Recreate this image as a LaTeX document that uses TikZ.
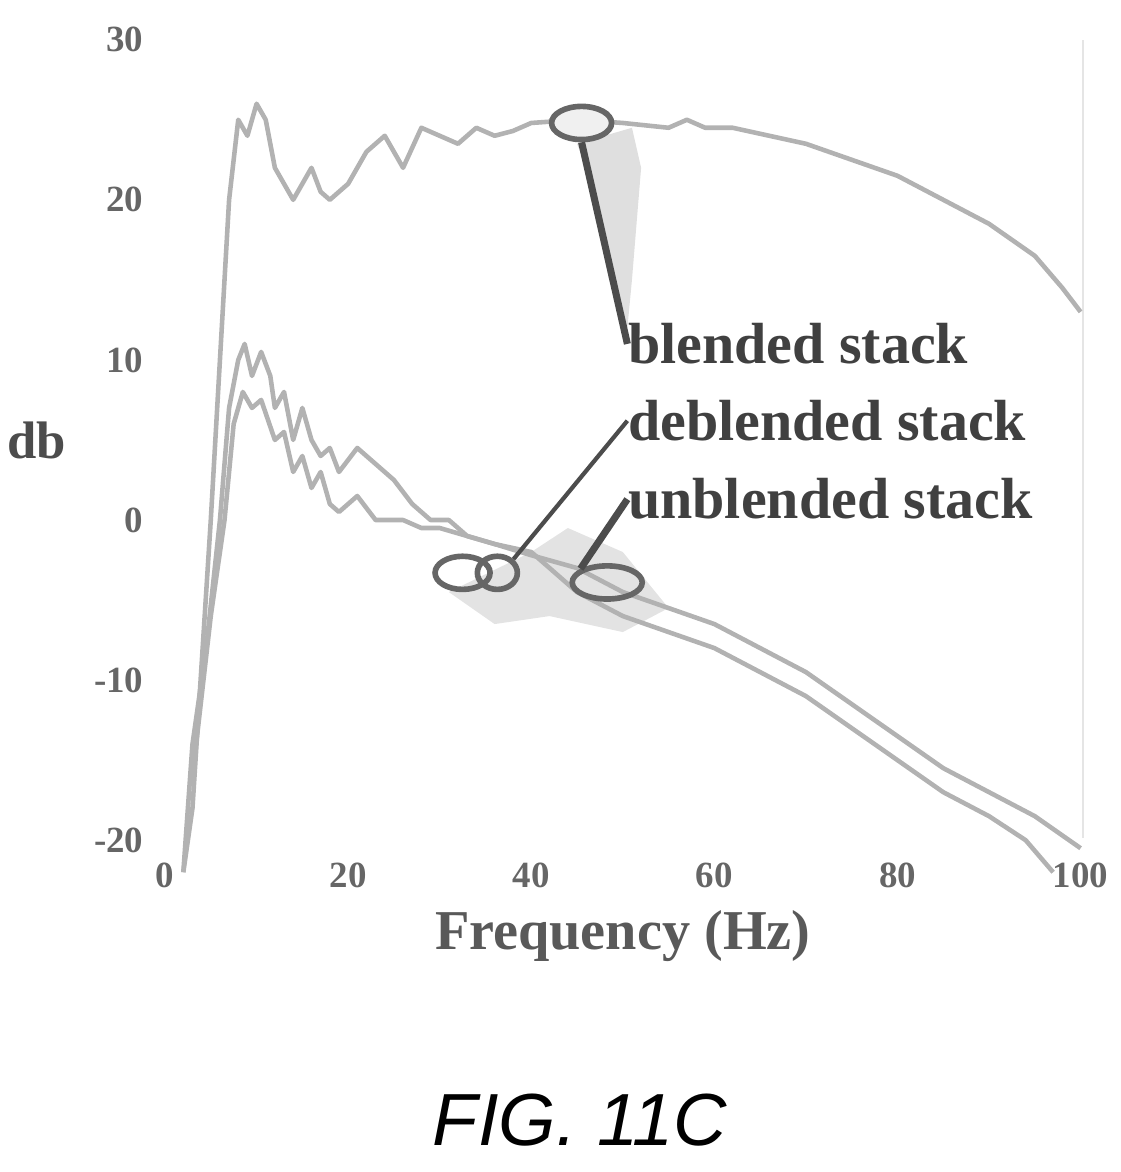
\documentclass[tikz,border=0pt]{standalone}
\usepackage{fontspec}
\setmainfont{Liberation Serif}
\newfontfamily\figfont{Liberation Sans}
\usetikzlibrary{shapes.geometric}
\begin{document}
\begin{tikzpicture}[x=0.01cm,y=0.01cm,
  curve/.style={draw=gray!60, line width=1.3pt, line join=round},
  lbl/.style={font=\fontsize{16.5}{16}\selectfont\bfseries, text=black!75, anchor=west, inner sep=0},
  tick/.style={font=\fontsize{10.5}{10}\selectfont\bfseries, text=black!60},
  oval/.style={draw=black!60, line width=1.6pt, fill=gray!12},
  lead/.style={draw=black!70, line width=2pt}]
\useasboundingbox (0,-1172) rectangle (1121,0);
\draw[gray!20, line width=0.8pt] (1083,-40) -- (1083,-838);
\begin{scope}[shift={(165,-520)}, x=0.0915cm, y=0.16cm]
 \foreach \v in {30,20,10,0,-10,-20}{\node[tick, anchor=east] (yt\v) at (-1,\v) {\v};}
 \foreach \u in {0,20,40,60,80,100}{\node[tick] (xt\u) at (\u,-22.2) {\u};}
 \node[font=\fontsize{15}{15}\selectfont\bfseries, text=black!70] (ylab) at (-14,5) {db};
 \node[font=\fontsize{16}{16}\selectfont\bfseries, text=black!65] (xlab) at (50,-26) {Frequency (Hz)};
 % shadows
 \fill[gray!25] (45,23.5) -- (51,24.5) -- (52,22) -- (51,15) -- (50.5,12) -- (48.5,15) -- (46,22) -- cycle;
 \fill[gray!22] (31,-4.5) -- (36,-6.5) -- (42,-6) -- (50,-7) -- (55,-5.5) -- (50,-2) -- (44,-0.5) -- (40,-2) -- cycle;
 \path[curve] (2,-22) -- (3,-18) -- (5,0) -- (7,20) -- (8,25) -- (9,24) -- (10,26) -- (11,25) -- (12,22) -- (14,20) -- (15,21) -- (16,22) -- (17,20.5) -- (18,20) -- (20,21) -- (22,23) -- (24,24) -- (26,22) -- (28,24.5) -- (30,24) -- (32,23.5) -- (34,24.5) -- (36,24) -- (38,24.3) -- (40,24.8) -- (45,25) -- (50,24.8) -- (55,24.5) -- (57,25) -- (59,24.5) -- (62,24.5) -- (66,24) -- (70,23.5) -- (75,22.5) -- (80,21.5) -- (85,20) -- (90,18.5) -- (95,16.5) -- (98,14.5) -- (100,13);
 \path[curve] (2,-22) -- (3,-14) -- (4.5,-8) -- (6,0) -- (7,7) -- (8,10) -- (8.7,11) -- (9.5,9) -- (10.5,10.5) -- (11.5,9) -- (12,7) -- (13,8) -- (14,5) -- (15,7) -- (16,5) -- (17,4) -- (18,4.5) -- (19,3) -- (21,4.5) -- (23,3.5) -- (25,2.5) -- (27,1) -- (29,0) -- (31,0) -- (33,-1) -- (36,-1.5) -- (40,-2) -- (42,-3) -- (45,-4.5) -- (50,-6) -- (55,-7) -- (60,-8) -- (65,-9.5) -- (70,-11) -- (75,-13) -- (80,-15) -- (85,-17) -- (90,-18.5) -- (94,-20) -- (97,-22);
 \path[curve] (3,-16) -- (5,-6) -- (6.5,0) -- (7.5,6) -- (8.5,8) -- (9.5,7) -- (10.5,7.5) -- (12,5) -- (13,5.5) -- (14,3) -- (15,4) -- (16,2) -- (17,3) -- (18,1) -- (19,0.5) -- (21,1.5) -- (23,0) -- (26,0) -- (28,-0.5) -- (30,-0.5) -- (33,-1) -- (36,-1.5) -- (40,-2.2) -- (45,-3) -- (50,-4.5) -- (55,-5.5) -- (60,-6.5) -- (65,-8) -- (70,-9.5) -- (75,-11.5) -- (80,-13.5) -- (85,-15.5) -- (90,-17) -- (95,-18.5) -- (100,-20.5);
 \node[oval, ellipse, minimum width=0.6cm, minimum height=0.26cm] (bo) at (45.5,24.8) {};
 \node[oval, ellipse, minimum width=0.55cm, minimum height=0.25cm, fill=none] (do1) at (32.5,-3.3) {};
 \node[oval, ellipse, minimum width=0.4cm, minimum height=0.25cm, fill=none] (do2) at (36.3,-3.3) {};
 \node[oval, ellipse, minimum width=0.7cm, minimum height=0.28cm, fill=none] (uo) at (48.3,-3.9) {};
 \node[lbl] (bl) at (50.5,11) {blended stack};
 \node[lbl] (dl) at (50.5,6.2) {deblended stack};
 \node[lbl] (ul) at (50.5,1.3) {unblended stack};
 \draw[lead] (bo.south) -- (bl.west);
 \draw[lead, line width=1.2pt] (do2.north east) -- (dl.west);
 \draw[lead] (uo.north west) -- (ul.west);
\end{scope}
\node[font=\figfont\itshape\fontsize{21}{21}\selectfont] (fig) at (580,-1120) {FIG. 11C};
\end{tikzpicture}
\end{document}
